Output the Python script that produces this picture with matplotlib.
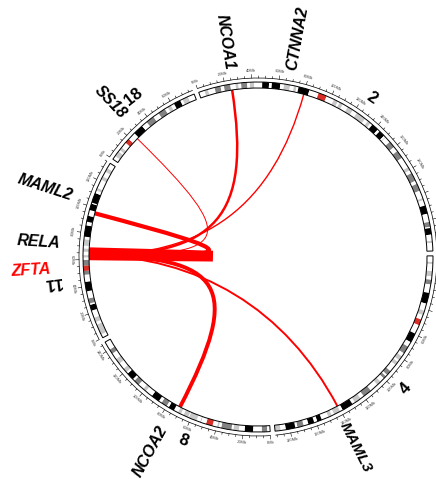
import numpy as np
import matplotlib.pyplot as plt
from matplotlib.patches import Wedge, PathPatch, Arc
from matplotlib.path import Path

plt.rcParams['font.family'] = ['Liberation Sans', 'DejaVu Sans']

# chromosomes drawn clockwise, lengths in Mb (hg19)
chroms = ['2', '4', '8', '11', '18']
chrom_len = [243.2, 191.2, 146.4, 135.0, 78.1]

# cytobands: (start Mb, end Mb, stain)
bands_2 = [(0, 4.4, 'gneg'), (4.4, 7.1, 'gpos50'), (7.1, 12.2, 'gneg'), (12.2, 16.7, 'gpos75'),
           (16.7, 19.2, 'gneg'), (19.2, 24.0, 'gpos75'), (24.0, 27.9, 'gneg'), (27.9, 30.0, 'gpos25'),
           (30.0, 32.1, 'gneg'), (32.1, 36.6, 'gpos75'), (36.6, 38.6, 'gneg'), (38.6, 41.8, 'gpos50'),
           (41.8, 47.8, 'gneg'), (47.8, 52.9, 'gpos100'), (52.9, 55.0, 'gneg'), (55.0, 61.3, 'gpos100'),
           (61.3, 64.1, 'gneg'), (64.1, 68.6, 'gpos50'), (68.6, 71.5, 'gneg'), (71.5, 73.5, 'gpos50'),
           (73.5, 75.0, 'gneg'), (75.0, 83.3, 'gpos100'), (83.3, 90.5, 'gneg'), (90.5, 96.8, 'acen'),
           (96.8, 102.7, 'gneg'), (102.7, 106.0, 'gpos50'), (106.0, 107.5, 'gneg'), (107.5, 110.2, 'gpos25'),
           (110.2, 114.4, 'gneg'), (114.4, 118.8, 'gpos50'), (118.8, 122.4, 'gneg'), (122.4, 129.9, 'gpos50'),
           (129.9, 132.5, 'gneg'), (132.5, 135.1, 'gpos25'), (135.1, 136.8, 'gneg'), (136.8, 142.2, 'gpos100'),
           (142.2, 144.1, 'gneg'), (144.1, 148.7, 'gpos100'), (148.7, 149.9, 'gneg'), (149.9, 150.5, 'gpos25'),
           (150.5, 154.9, 'gneg'), (154.9, 159.8, 'gpos75'), (159.8, 163.7, 'gneg'), (163.7, 169.7, 'gpos75'),
           (169.7, 178.0, 'gneg'), (178.0, 180.6, 'gpos50'), (180.6, 183.0, 'gneg'), (183.0, 189.4, 'gpos75'),
           (189.4, 191.9, 'gneg'), (191.9, 197.4, 'gpos75'), (197.4, 203.3, 'gneg'), (203.3, 204.9, 'gpos50'),
           (204.9, 209.0, 'gneg'), (209.0, 215.3, 'gpos100'), (215.3, 221.5, 'gneg'), (221.5, 225.2, 'gpos75'),
           (225.2, 226.1, 'gneg'), (226.1, 231.0, 'gpos100'), (231.0, 235.6, 'gneg'), (235.6, 237.3, 'gpos50'),
           (237.3, 243.2, 'gneg')]
bands_4 = [(0, 4.5, 'gneg'), (4.5, 6.0, 'gpos25'), (6.0, 11.3, 'gneg'), (11.3, 15.2, 'gpos50'),
           (15.2, 17.8, 'gneg'), (17.8, 21.3, 'gpos75'), (21.3, 27.7, 'gneg'), (27.7, 35.8, 'gpos100'),
           (35.8, 41.2, 'gneg'), (41.2, 44.6, 'gpos50'), (44.6, 48.2, 'gneg'), (48.2, 52.7, 'acen'),
           (52.7, 59.5, 'gneg'), (59.5, 66.6, 'gpos100'), (66.6, 70.5, 'gneg'), (70.5, 76.3, 'gpos75'),
           (76.3, 78.9, 'gneg'), (78.9, 82.4, 'gpos50'), (82.4, 84.1, 'gneg'), (84.1, 86.9, 'gpos25'),
           (86.9, 92.8, 'gneg'), (92.8, 96.5, 'gpos75'), (96.5, 97.9, 'gneg'), (97.9, 100.1, 'gpos75'),
           (100.1, 103.5, 'gneg'), (103.5, 106.7, 'gpos50'), (106.7, 113.2, 'gneg'), (113.2, 119.9, 'gpos75'),
           (119.9, 122.8, 'gneg'), (122.8, 127.9, 'gpos50'), (127.9, 130.1, 'gneg'), (130.1, 138.5, 'gpos100'),
           (138.5, 140.6, 'gneg'), (140.6, 145.6, 'gpos25'), (145.6, 147.5, 'gneg'), (147.5, 150.3, 'gpos25'),
           (150.3, 155.6, 'gneg'), (155.6, 159.1, 'gpos100'), (159.1, 161.5, 'gneg'), (161.5, 166.0, 'gpos100'),
           (166.0, 169.7, 'gneg'), (169.7, 174.4, 'gpos75'), (174.4, 176.0, 'gneg'), (176.0, 183.2, 'gpos100'),
           (183.2, 187.1, 'gneg'), (187.1, 191.2, 'gpos25')]
bands_8 = [(0, 2.2, 'gneg'), (2.2, 6.2, 'gpos75'), (6.2, 12.7, 'gneg'), (12.7, 19.0, 'gpos100'),
           (19.0, 23.3, 'gneg'), (23.3, 27.4, 'gpos50'), (27.4, 28.8, 'gneg'), (28.8, 36.5, 'gpos75'),
           (36.5, 38.3, 'gneg'), (38.3, 39.7, 'gpos25'), (39.7, 43.1, 'gneg'), (43.1, 48.1, 'acen'),
           (48.1, 52.2, 'gneg'), (52.2, 52.6, 'gpos75'), (52.6, 55.5, 'gneg'), (55.5, 61.6, 'gpos50'),
           (61.6, 62.2, 'gneg'), (62.2, 66.0, 'gpos50'), (66.0, 68.0, 'gneg'), (68.0, 70.5, 'gpos50'),
           (70.5, 73.9, 'gneg'), (73.9, 78.3, 'gpos100'), (78.3, 80.1, 'gneg'), (80.1, 84.6, 'gpos75'),
           (84.6, 86.9, 'gneg'), (86.9, 93.3, 'gpos100'), (93.3, 99.0, 'gneg'), (99.0, 101.6, 'gpos25'),
           (101.6, 106.2, 'gneg'), (106.2, 110.5, 'gpos75'), (110.5, 112.1, 'gneg'), (112.1, 117.7, 'gpos100'),
           (117.7, 119.2, 'gneg'), (119.2, 122.5, 'gpos50'), (122.5, 127.3, 'gneg'), (127.3, 131.5, 'gpos50'),
           (131.5, 136.4, 'gneg'), (136.4, 139.9, 'gpos75'), (139.9, 146.4, 'gneg')]
bands_11 = [(0, 2.8, 'gneg'), (2.8, 10.7, 'gpos50'), (10.7, 12.7, 'gneg'), (12.7, 16.2, 'gpos50'),
            (16.2, 21.7, 'gneg'), (21.7, 26.1, 'gpos100'), (26.1, 27.2, 'gneg'), (27.2, 31.0, 'gpos75'),
            (31.0, 36.4, 'gneg'), (36.4, 43.5, 'gpos100'), (43.5, 48.8, 'gneg'), (48.8, 51.6, 'gpos75'),
            (51.6, 55.7, 'acen'), (55.7, 59.9, 'gpos75'), (59.9, 61.7, 'gneg'), (61.7, 63.4, 'gpos25'),
            (63.4, 65.9, 'gneg'), (65.9, 68.4, 'gpos25'), (68.4, 70.4, 'gneg'), (70.4, 75.2, 'gpos50'),
            (75.2, 77.1, 'gneg'), (77.1, 85.6, 'gpos100'), (85.6, 88.3, 'gneg'), (88.3, 92.8, 'gpos100'),
            (92.8, 97.2, 'gneg'), (97.2, 102.1, 'gpos100'), (102.1, 102.9, 'gneg'), (102.9, 110.4, 'gpos100'),
            (110.4, 112.5, 'gneg'), (112.5, 114.5, 'gpos50'), (114.5, 121.2, 'gneg'), (121.2, 123.9, 'gpos50'),
            (123.9, 127.8, 'gneg'), (127.8, 130.8, 'gpos50'), (130.8, 135.0, 'gneg')]
bands_18 = [(0, 2.9, 'gneg'), (2.9, 7.1, 'gpos50'), (7.1, 8.5, 'gneg'), (8.5, 10.9, 'gpos25'),
            (10.9, 15.4, 'gneg'), (15.4, 19.0, 'acen'), (19.0, 25.0, 'gneg'), (25.0, 32.7, 'gpos100'),
            (32.7, 37.2, 'gneg'), (37.2, 43.5, 'gpos75'), (43.5, 48.2, 'gneg'), (48.2, 53.8, 'gpos75'),
            (53.8, 56.2, 'gneg'), (56.2, 59.0, 'gpos50'), (59.0, 61.6, 'gneg'), (61.6, 66.8, 'gpos100'),
            (66.8, 68.7, 'gneg'), (68.7, 73.1, 'gpos25'), (73.1, 78.1, 'gneg')]
bands = [bands_2, bands_4, bands_8, bands_11, bands_18]

stain_color = {'gneg': '#ffffff', 'gpos25': '#c8c8c8', 'gpos50': '#c8c8c8',
               'gpos75': '#828282', 'gpos100': '#000000', 'acen': '#d92f27'}

# ZFTA fusions: hub gene and its partners
hub_gene, hub_chrom, hub_pos = 'ZFTA', '11', 63.5
partners = ['RELA', 'MAML2', 'SS18', 'NCOA1', 'CTNNA2', 'NCOA2', 'MAML3']
partner_chrom = ['11', '11', '18', '2', '2', '8', '4']
partner_pos = [65.4, 95.8, 23.6, 24.8, 80.1, 71.0, 140.6]
link_width = [7.5, 3.0, 0.7, 1.8, 1.0, 2.8, 1.4]

# layout
start_angle = -19.8
gap = 1.6
scale = (360 - gap * len(chroms)) / sum(chrom_len)
R_in, R_out = 169, 175
R_scale = 179
x_lim, y_lim = (-258, 178), (-222, 257)

starts = []
a = start_angle
for L in chrom_len:
    starts.append(a)
    a += L * scale + gap


def angle(chrom, pos):
    return starts[chroms.index(chrom)] + pos * scale


def xy(theta, r):
    t = np.radians(theta)
    return r * np.sin(t), r * np.cos(t)


fig = plt.figure(figsize=(4.36, 4.79), dpi=100)
ax = fig.add_axes([0, 0, 1, 1])
ax.set_xlim(*x_lim)
ax.set_ylim(*y_lim)
ax.set_aspect('equal')
ax.axis('off')

# ideograms
for i, c in enumerate(chroms):
    a0 = starts[i]
    a1 = a0 + chrom_len[i] * scale
    for s, e, st in bands[i]:
        ax.add_patch(Wedge((0, 0), R_out, 90 - (a0 + e * scale), 90 - (a0 + s * scale),
                           width=R_out - R_in, facecolor=stain_color[st], edgecolor='none', zorder=2))
    ax.add_patch(Wedge((0, 0), R_out, 90 - a1, 90 - a0, width=R_out - R_in,
                       facecolor='none', edgecolor='black', lw=0.7, zorder=3))
    # scale line with ticks
    ax.add_patch(Arc((0, 0), 2 * R_scale, 2 * R_scale, theta1=90 - a1, theta2=90 - a0,
                     color='black', lw=0.5, zorder=3))
    for mb in np.arange(0, chrom_len[i] + 0.01, 5):
        th = a0 + mb * scale
        major = mb % 20 == 0
        x0, y0 = xy(th, R_scale)
        x1, y1 = xy(th, R_scale + (3.5 if major else 2))
        ax.plot([x0, x1], [y0, y1], color='black', lw=0.4, zorder=3)
        tx, ty = xy(th, R_scale + 7.5)
        if major and tx < x_lim[1] - 5:
            t = th % 360
            rot = -t if (t < 90 or t > 270) else 180 - t
            ax.text(tx, ty, f'{int(mb)}Mb', fontsize=2.9, color='#444444', rotation=rot,
                    rotation_mode='anchor', ha='center', va='center')

# links from the hub to every partner
a_hub = angle(hub_chrom, hub_pos)
for g, c, p, w in zip(partners, partner_chrom, partner_pos, link_width):
    a_p = angle(c, p)
    delta = abs((a_p - a_hub + 180) % 360 - 180)
    d = R_in * (0.98 - 0.5 * delta / 180)
    verts = [xy(a_hub, R_in), xy(a_hub, R_in - d), xy(a_p, R_in - d), xy(a_p, R_in)]
    path = Path(verts, [Path.MOVETO, Path.CURVE4, Path.CURVE4, Path.CURVE4])
    ax.add_patch(PathPatch(path, facecolor='none', edgecolor='#ff0000', lw=w,
                           capstyle='butt', zorder=1))

# gene labels: angle nudge (deg), inner radius
gene_label = {'ZFTA': (-4.0, 208), 'RELA': (2.4, 198), 'MAML2': (3.0, 195), 'SS18': (2.0, 194),
              'NCOA1': (0.2, 190), 'CTNNA2': (-5.5, 190), 'NCOA2': (1.5, 194), 'MAML3': (1.0, 187)}
gene_pos = dict(zip(partners, zip(partner_chrom, partner_pos)))
gene_pos[hub_gene] = (hub_chrom, hub_pos)
for g, (c, p) in gene_pos.items():
    nudge, r = gene_label[g]
    th = (angle(c, p) + nudge) % 360
    x, y = xy(th, r)
    if th < 180:
        rot, ha = 90 - th, 'left'
    else:
        rot, ha = 270 - th, 'right'
    ax.text(x, y, g, fontsize=11.5 if g != 'MAML3' else 11, fontweight='bold', fontstyle='italic',
            color='#ff0000' if g == hub_gene else 'black', rotation=rot,
            rotation_mode='anchor', ha=ha, va='center')

# chromosome labels: angle nudge (deg), radius, rotation
chrom_label = {'2': (1.4, 196, -34), '4': (-0.3, 197, 48), '8': (-6.4, 198, -22),
               '11': (-9.4, 207, 187), '18': (0.8, 203, 38)}
for i, c in enumerate(chroms):
    nudge, r, rot = chrom_label[c]
    th = starts[i] + chrom_len[i] * scale / 2 + nudge
    x, y = xy(th, r)
    ax.text(x, y, c, fontsize=12, fontweight='bold', rotation=rot,
            rotation_mode='anchor', ha='center', va='center')

fig.savefig('out.png', dpi=100)
